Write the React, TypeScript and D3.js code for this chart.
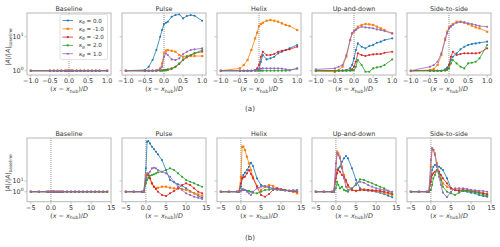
import React from "react";
import * as d3 from "d3";

const panelTitles = ["Baseline", "Pulse", "Helix", "Up-and-down", "Side-to-side"];
const kappaLabels = ["0.0", "-1.0", "-2.0", "2.0", "1.0"];
const colors = ["#1f77b4", "#ff7f0e", "#d62728", "#2ca02c", "#9467bd"];

const xA = [-1.0, -0.5, -0.4, -0.3, -0.2, -0.1, -0.05, 0, 0.05, 0.1, 0.2, 0.3, 0.4, 0.5, 0.6, 0.7, 0.8, 1.0];
const xB = [-5, -3, -1, -0.5, 0, 0.3, 0.6, 1, 1.5, 2, 2.5, 3, 4, 5, 6, 7, 8, 9, 10, 11, 12, 13, 14];
const xTicksA = [-1, -0.5, 0, 0.5, 1];
const xTicksB = [-5, 0, 5, 10, 15];
const yTicksA = [1, 10];
const yTicksB = [1, 10];
const yDomainA = [0.747, 49.8];
const yDomainB = [0.116, 104000];
const xDomainA = [-1.1, 1.1];
const xDomainB = [-5.95, 14.95];

// series order: kappa 0.0, -1.0, -2.0, 2.0, 1.0
const baselineA = [
  [1, 1, 1, 1, 1, 1, 1, 1, 1, 1, 1, 1, 1, 1, 1, 1, 1, 1],
  [1, 1, 1, 1, 1, 1, 1, 1, 1, 1, 1, 1, 1, 1, 1, 1, 1, 1],
  [1, 1, 1, 1, 1, 1, 1, 1, 1, 1, 1, 1, 1, 1, 1, 1, 1, 1],
  [1, 1, 1, 1, 1, 1, 1, 1, 1, 1, 1, 1, 1, 1, 1, 1, 1, 1],
  [1, 1, 1, 1, 1, 1, 1, 1, 1, 1, 1, 1, 1, 1, 1, 1, 1, 1],
];
const pulseA = [
  [1, 1.05, 1.31, 2.06, 4.05, 10, 15.7, 23.6, 25.8, 27.6, 38.8, 43.3, 45.5, 34.6, 40.6, 43.3, 41.5, 29.5],
  [1, 0.98, 1, 1, 1.02, 1.17, 1.64, 3.24, 3.87, 4.05, 3.87, 3.62, 2.89, 2.58, 2.7, 2.7, 2.7, 2.7],
  [1, 1, 1, 1, 1, 1.02, 1.02, 1.05, 1.07, 1.09, 1.17, 1.31, 1.57, 2.06, 2.47, 2.89, 3.24, 3.62],
  [1, 1, 1, 1, 1, 1, 1, 1.02, 1.02, 1.05, 1.12, 1.31, 1.64, 2.15, 2.58, 2.89, 3.24, 4.05],
  [1, 1, 1, 1, 1.02, 1.09, 1.31, 2.58, 3.24, 2.89, 2.15, 2.06, 2.31, 3.09, 3.62, 4.05, 4.24, 4.54],
];
const helixA = [
  [1, 1, 1, 1, 1, 1.02, 1.05, 1.09, 1.84, 2.89, 2.15, 2.31, 2.58, 3.24, 3.62, 4.05, 4.54, 5.69],
  [1, 1.17, 1.47, 2.06, 4.05, 8.94, 13.1, 20.6, 23.6, 25.8, 29.5, 30.9, 29.5, 27.6, 24.7, 22.1, 20.6, 15.7],
  [1, 1, 1, 1, 1, 1.05, 1.17, 1.47, 2.58, 3.62, 2.89, 2.89, 3.09, 3.62, 3.87, 4.05, 4.24, 5.08],
  [1, 1, 1, 1, 1, 1, 1, 1, 1, 1, 1, 1, 1, 1, 1, 1, 1.02, 1.17],
  [1, 1, 1, 1, 1, 1.02, 1.05, 1.09, 1.15, 1.17, 1.17, 1.17, 1.17, 1.17, 1.15, 1.09, 1.05, 1.15],
];
const upDownA = [
  [1, 1, 1, 1.02, 1.05, 1.17, 1.47, 2.31, 4.05, 6.36, 5.08, 4.54, 5.32, 5.69, 6.66, 7.14, 7.97, 8.94],
  [0.98, 0.93, 1.05, 1.31, 2.58, 7.97, 12.5, 14.0, 16.4, 19.7, 22.1, 23.6, 23.1, 22.1, 19.7, 17.6, 15.7, 12.5],
  [1, 1, 1, 1, 1, 1.02, 1.09, 1.31, 1.84, 3.24, 2.89, 2.7, 2.89, 3.02, 3.09, 3.09, 3.38, 3.62],
  [1, 1, 1, 1, 1, 1, 1.02, 1.05, 1.31, 2.06, 1.47, 0.93, 0.93, 1.17, 1.25, 1.31, 1.47, 2.15],
  [1.09, 1.17, 1.31, 1.47, 2.89, 7.97, 12.5, 15.0, 15.7, 17.6, 19.7, 18.8, 18.4, 17.6, 16.4, 15.7, 14.7, 12.5],
];
const sideA = [
  [1, 1, 1, 1, 1, 1.09, 1.23, 1.47, 2.06, 2.58, 3.24, 4.24, 5.08, 5.69, 6.09, 6.36, 6.66, 7.14],
  [0.98, 1.05, 1.12, 1.47, 2.89, 8.94, 14.0, 18.8, 20.6, 23.6, 27.6, 27.6, 25.8, 23.6, 21.1, 18.8, 17.6, 14.0],
  [1, 1, 1, 1, 1, 1.02, 1.09, 1.47, 2.58, 3.62, 2.89, 3.09, 3.24, 3.24, 3.24, 3.24, 3.38, 4.54],
  [1, 1, 1, 1, 1, 1.02, 1.05, 1.17, 1.64, 2.06, 1.64, 1.31, 1.17, 1.64, 1.72, 1.84, 2.31, 5.69],
  [1, 1.31, 1.47, 1.84, 3.24, 7.97, 12.5, 17.6, 19.7, 22.1, 25.8, 27.6, 26.4, 24.7, 23.6, 22.1, 20.6, 19.7],
];

const baselineB = [
  [1, 1, 1, 1, 1, 1, 1, 1, 1, 1, 1, 1, 1, 1, 1, 1, 1, 1, 1, 1, 1, 1, 1],
  [1, 1, 1, 1, 1, 1, 1, 1, 1, 1, 1, 1, 1, 1, 1, 1, 1, 1, 1, 1, 1, 1, 1],
  [1, 1, 1, 1, 1, 1, 1, 1, 1, 1, 1, 1, 1, 1, 1, 1, 1, 1, 1, 1, 1, 1, 1],
  [1, 1, 1, 1, 1, 1, 1, 1, 1, 1, 1, 1, 1, 1, 1, 1, 1, 1, 1, 1, 1, 1, 1],
  [1, 1, 1, 1, 1, 1, 1, 1, 1, 1, 1, 1, 1, 1, 1, 1, 1, 1, 1, 1, 1, 1, 1],
];
const pulseB = [
  [1, 1, 1, 1, 151, 46600, 54300, 32600, 15900, 9720, 5440, 3080, 908, 106, 12.3, 7.45, 4.85, 3.64, 2.05, 1.15, 0.7, 0.42, 0.27],
  [1, 1, 1, 1, 36, 52, 36, 17.6, 6.0, 2.9, 2.05, 2.36, 2.9, 2.9, 2.36, 2.05, 2.05, 1.78, 1.43, 1, 0.7, 0.56, 0.42],
  [1, 1, 1, 1, 12.3, 36, 36, 17.6, 6.0, 2.9, 1.78, 1, 0.49, 0.39, 0.7, 1.15, 2.05, 4.2, 6.0, 4.2, 2.05, 1, 0.7],
  [1, 1, 1, 1, 6.0, 12.3, 20.3, 31.3, 36, 41.7, 52, 64, 74, 106, 151, 106, 52, 25, 12.3, 8.6, 6.0, 4.2, 2.9],
  [1, 1, 1, 1, 17.6, 36, 52, 74, 151, 175, 151, 106, 74, 52, 25, 8.6, 2.9, 1.43, 0.7, 0.49, 0.34, 0.27, 0.21],
];
const helixB = [
  [1, 1, 1, 1, 2.9, 17.6, 36, 59.7, 106, 217, 514, 251, 17.6, 4.2, 2.9, 2.36, 2.05, 1.78, 1.43, 1.33, 1.15, 1.07, 1],
  [1, 1, 1, 1, 25, 15900, 15900, 7780, 1860, 444, 106, 25, 3.39, 1.43, 2.9, 4.2, 3.39, 2.05, 1.65, 1.43, 1.24, 1, 0.7],
  [1, 1, 1, 1, 6.0, 17.6, 21.8, 25, 52, 106, 45, 17.6, 2.9, 0.49, 0.34, 0.61, 1.43, 2.05, 1.65, 1.43, 1.24, 1.07, 1],
  [1, 1, 1, 1, 1.24, 1.65, 1.65, 1.43, 1.24, 1.15, 1, 0.81, 0.7, 1, 1.43, 1.54, 1.65, 1.54, 1.43, 1.33, 1.24, 1.33, 1.43],
  [1, 1, 1, 1, 1.24, 1.43, 1.43, 1.43, 1, 0.7, 0.49, 1, 2.05, 2.9, 3.39, 2.9, 1.65, 1.54, 1.43, 1.33, 1.24, 1.24, 1.15],
];
const upDownB = [
  [1, 1, 1, 1, 36, 106, 151, 217, 635, 1300, 2150, 1300, 151, 12.3, 2.05, 1.43, 1.24, 1.15, 1, 0.81, 0.61, 0.42, 0.3],
  [1, 1, 1, 1, 106, 5440, 3800, 1860, 217, 36, 8.6, 2.9, 1.43, 1.15, 1.43, 1.65, 1.43, 1.33, 1.24, 1.07, 0.81, 0.65, 0.49],
  [1, 1, 1, 1, 17.6, 52, 106, 74, 36, 25, 12.3, 4.2, 1.43, 1.24, 1.43, 1.43, 1.43, 1.33, 1.24, 1.15, 1, 0.81, 0.61],
  [1, 1, 1, 1, 2.05, 8.6, 4.2, 2.05, 2.9, 1.43, 1.24, 1, 2.05, 4.2, 14.2, 12.3, 8.6, 6.0, 4.2, 2.9, 2.05, 1.24, 0.7],
  [1, 1, 1, 1, 444, 3800, 2660, 1300, 151, 17.6, 2.9, 1.43, 2.05, 6.0, 8.6, 6.9, 4.2, 2.9, 2.05, 1.65, 1.43, 1.24, 1],
];
const sideB = [
  [1, 1, 1, 1, 25, 106, 217, 310, 310, 217, 151, 106, 17.6, 2.05, 1.43, 1.24, 1.15, 1, 0.81, 0.7, 0.49, 0.39, 0.34],
  [1, 1, 1, 1, 217, 11100, 7780, 3800, 444, 74, 17.6, 6.0, 2.9, 2.05, 1.43, 1.43, 1.43, 1.33, 1.24, 1.15, 1, 0.7, 0.49],
  [1, 1, 1, 1, 8.6, 36, 52, 74, 106, 74, 36, 17.6, 6.0, 2.05, 1.43, 1.24, 1.43, 1.33, 1.15, 1, 0.81, 0.7, 0.61],
  [1, 1, 1, 1, 1.43, 4.2, 17.6, 36, 106, 52, 12.3, 2.9, 1, 0.7, 0.49, 0.81, 1.24, 1.15, 1, 0.87, 0.7, 0.52, 0.39],
  [1, 1, 1, 1, 908, 11100, 7780, 2660, 217, 25, 4.2, 0.81, 0.3, 1, 2.05, 2.05, 2.05, 1.78, 1.43, 1.33, 1.24, 1.15, 1],
];

const rowAData = [baselineA, pulseA, helixA, upDownA, sideA];
const rowBData = [baselineB, pulseB, helixB, upDownB, sideB];

const FONT = "DejaVu Sans, Verdana, sans-serif";
const TXT = "#333";
const FRAME = "#b8b8b8";

function fmtTick(v: number) {
  const s = Number.isInteger(v) && Math.abs(v) >= 5 ? String(Math.abs(v)) : Math.abs(v).toFixed(1);
  return (v < 0 ? "\u2212" : "") + s;
}

function Marker({ cx, cy, i, color }: { cx: number; cy: number; i: number; color: string }) {
  if (i === 1) return <rect x={cx - 1.1} y={cy - 1.1} width={2.2} height={2.2} fill={color} />;
  return <circle cx={cx} cy={cy} r={1.05} fill={color} />;
}

function Panel({
  left, top, w, h, xs, data, xDomain, yDomain, xTicks, yTicks, title, showY, legend,
}: any) {
  const x = d3.scaleLinear().domain(xDomain).range([left, left + w]);
  const y = d3.scaleLog().domain(yDomain).range([top + h, top]);
  const line = d3.line<number>().x((_, j) => x(xs[j])).y((v) => y(v));
  return (
    <g>
      <text x={left + w / 2} y={top - 2.5} textAnchor="middle" fontSize={6.4} fill={TXT} fontFamily={FONT}>
        {title}
      </text>
      <line x1={x(0)} x2={x(0)} y1={top} y2={top + h} stroke="#444" strokeWidth={0.7} strokeDasharray="0.8,1.2" />
      {data.map((series: number[], i: number) => (
        <g key={i}>
          <path d={line(series) || ""} fill="none" stroke={colors[i]} strokeWidth={0.8} />
          {series.map((v, j) => (
            <Marker key={j} cx={x(xs[j])} cy={y(v)} i={i} color={colors[i]} />
          ))}
        </g>
      ))}
      <rect x={left} y={top} width={w} height={h} fill="none" stroke={FRAME} strokeWidth={1} />
      {xTicks.map((t: number) => (
        <g key={t}>
          <line x1={x(t)} x2={x(t)} y1={top + h} y2={top + h + 2.5} stroke={FRAME} strokeWidth={0.8} />
          <text x={x(t)} y={top + h + 8.3} textAnchor="middle" fontSize={6.4} fill={TXT} fontFamily={FONT}>
            {fmtTick(t)}
          </text>
        </g>
      ))}
      {yTicks.map((t: number) => (
        <g key={t}>
          <line x1={left - 2.5} x2={left} y1={y(t)} y2={y(t)} stroke={FRAME} strokeWidth={0.8} />
          {showY && (
            <text x={left - 3.5} y={y(t) + 2.2} textAnchor="end" fontSize={6.4} fill={TXT} fontFamily={FONT}>
              10<tspan dy={-2.6} fontSize={4.5}>{t === 1 ? "0" : "1"}</tspan>
            </text>
          )}
        </g>
      ))}
      <text x={left + w / 2} y={top + h + 16} textAnchor="middle" fontSize={6.4} fill={TXT} fontFamily={FONT}>
        (<tspan fontStyle="italic">x</tspan> − <tspan fontStyle="italic">x</tspan>
        <tspan dy={1.5} fontSize={4.5}>hub</tspan>
        <tspan dy={-1.5}>)/</tspan>
        <tspan fontStyle="italic">D</tspan>
      </text>
      {showY && (
        <text
          transform={`translate(${left - 17},${top + h / 2 + 3}) rotate(-90)`}
          textAnchor="middle"
          fontSize={6.2}
          fill={TXT}
          fontFamily={FONT}
        >
          |<tspan fontStyle="italic">A</tspan>|/|<tspan fontStyle="italic">A</tspan>|
          <tspan dy={1.5} fontSize={4.4}>baseline</tspan>
        </text>
      )}
      {legend && (
        <g>
          <rect x={left + 33} y={top + 1.5} width={47.5} height={45} rx={1.5} fill="white" fillOpacity={0.85} stroke="#cfcfcf" strokeWidth={0.6} />
          {kappaLabels.map((k, i) => {
            const yy = top + 7.5 + i * 8.3;
            const x0 = left + 35.5;
            return (
              <g key={k}>
                <line x1={x0} x2={x0 + 10.5} y1={yy} y2={yy} stroke={colors[i]} strokeWidth={0.8} />
                <Marker cx={x0 + 5.25} cy={yy} i={i} color={colors[i]} />
                <text x={x0 + 16.5} y={yy + 2} fontSize={5.6} fill={TXT} fontFamily={FONT}>
                  <tspan fontStyle="italic">κ</tspan>
                  <tspan dy={1.2} fontSize={4} fontStyle="italic">θ</tspan>
                  <tspan dy={-1.2}>{" = " + k}</tspan>
                </text>
              </g>
            );
          })}
        </g>
      )}
    </g>
  );
}

export default function App() {
  const lefts = panelTitles.map((_, i) => 27 + i * 95);
  const w = 84;
  return (
    <svg width={500} height={247} style={{ position: "absolute", left: 0, top: 0, background: "white" }}>
      <rect width={500} height={247} fill="white" />
      {panelTitles.map((t, i) => (
        <Panel
          key={"a" + i}
          left={lefts[i]}
          top={13}
          w={w}
          h={62}
          xs={xA}
          data={rowAData[i]}
          xDomain={xDomainA}
          yDomain={yDomainA}
          xTicks={xTicksA}
          yTicks={yTicksA}
          title={t}
          showY={i === 0}
          legend={i === 0}
        />
      ))}
      {panelTitles.map((t, i) => (
        <Panel
          key={"b" + i}
          left={lefts[i]}
          top={138}
          w={w}
          h={63.7}
          xs={xB}
          data={rowBData[i]}
          xDomain={xDomainB}
          yDomain={yDomainB}
          xTicks={xTicksB}
          yTicks={yTicksB}
          title={t}
          showY={i === 0}
          legend={false}
        />
      ))}
      <text x={250} y={111} textAnchor="middle" fontSize={7} fill={TXT} fontFamily={FONT}>(a)</text>
      <text x={250} y={240} textAnchor="middle" fontSize={7} fill={TXT} fontFamily={FONT}>(b)</text>
    </svg>
  );
}
